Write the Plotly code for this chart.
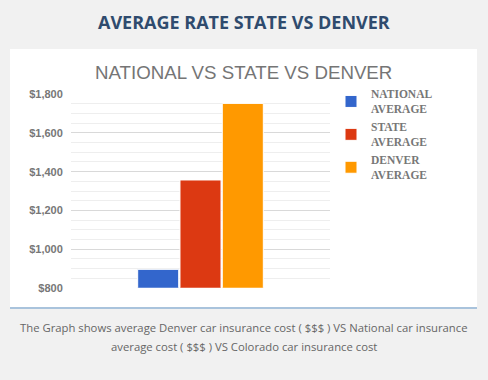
import plotly.graph_objects as go

categories = ["Average"]
series_names = ["NATIONAL<br>AVERAGE", "STATE<br>AVERAGE", "DENVER<br>AVERAGE"]
series_values = [895, 1357, 1753]
colors = ["#3366cc", "#dc3912", "#ff9900"]
tick_vals = [800, 1000, 1200, 1400, 1600, 1800]

W, H = 488, 380

def px_x(x):
    return x / W

def px_y(y):
    return (H - y) / H

fig = go.Figure()
for name, val, col in zip(series_names, series_values, colors):
    fig.add_trace(go.Bar(
        x=categories, y=[val], name=name,
        marker=dict(color=col, line=dict(color="white", width=1)),
    ))

fig.update_layout(
    width=W, height=H,
    margin=dict(l=0, r=0, t=0, b=0, autoexpand=False),
    paper_bgcolor="#f1f1f1",
    plot_bgcolor="white",
    barmode="group",
    bargap=0.51,
    bargroupgap=0.03,
    showlegend=True,
    legend=dict(
        x=px_x(331), y=px_y(80), xanchor="left", yanchor="top",
        font=dict(family="Liberation Serif", size=11.5, color="#777777", weight="bold"),
        bgcolor="rgba(0,0,0,0)",
        itemwidth=30,
        tracegroupgap=0,
    ),
    xaxis=dict(
        domain=[px_x(71), px_x(330)], automargin=False,
        showticklabels=False, showgrid=False, zeroline=False, showline=False,
    ),
    yaxis=dict(
        domain=[px_y(287.7), px_y(94.3)], automargin=False,
        range=[800, 1800],
        tickvals=tick_vals,
        tickformat="$,",
        tickfont=dict(family="Liberation Sans", size=11, color="#777777", weight="bold"),
        gridcolor="#d9d9d9", gridwidth=1,
        minor=dict(dtick=50, showgrid=True, gridcolor="#eeeeee", gridwidth=1),
        zeroline=False, showline=False,
        ticks="outside", ticklen=5, tickcolor="rgba(0,0,0,0)",
    ),
    shapes=[
        dict(type="rect", xref="paper", yref="paper",
             x0=px_x(10), x1=px_x(477), y0=px_y(308), y1=px_y(49),
             fillcolor="white", line=dict(width=0), layer="below"),
        dict(type="line", xref="paper", yref="paper",
             x0=px_x(10), x1=px_x(477), y0=px_y(308), y1=px_y(308),
             line=dict(color="#a9c3dc", width=2)),
    ],
    annotations=[
        dict(text="<b>AVERAGE RATE STATE VS DENVER</b>", xref="paper", yref="paper",
             x=0.5, y=px_y(22), xanchor="center", yanchor="middle", showarrow=False,
             font=dict(family="Open Sans", size=18, color="#2f4b6e")),
        dict(text="NATIONAL VS STATE VS DENVER", xref="paper", yref="paper",
             x=px_x(243), y=px_y(72), xanchor="center", yanchor="middle", showarrow=False,
             font=dict(family="Liberation Sans", size=18.7, color="#757575")),
        dict(text="The Graph shows average Denver car insurance cost ( $$$ ) VS National car insurance",
             xref="paper", yref="paper",
             x=0.5, y=px_y(327), xanchor="center", yanchor="middle", showarrow=False,
             font=dict(family="Open Sans", size=11.3, color="#666666")),
        dict(text="average cost ( $$$ ) VS Colorado car insurance cost",
             xref="paper", yref="paper",
             x=0.5, y=px_y(346), xanchor="center", yanchor="middle", showarrow=False,
             font=dict(family="Open Sans", size=11.3, color="#666666")),
    ],
)

fig.write_html(
    "out.html",
    config={"displayModeBar": False},
    post_script="document.body.style.margin='0';document.body.style.overflow='hidden';",
)
